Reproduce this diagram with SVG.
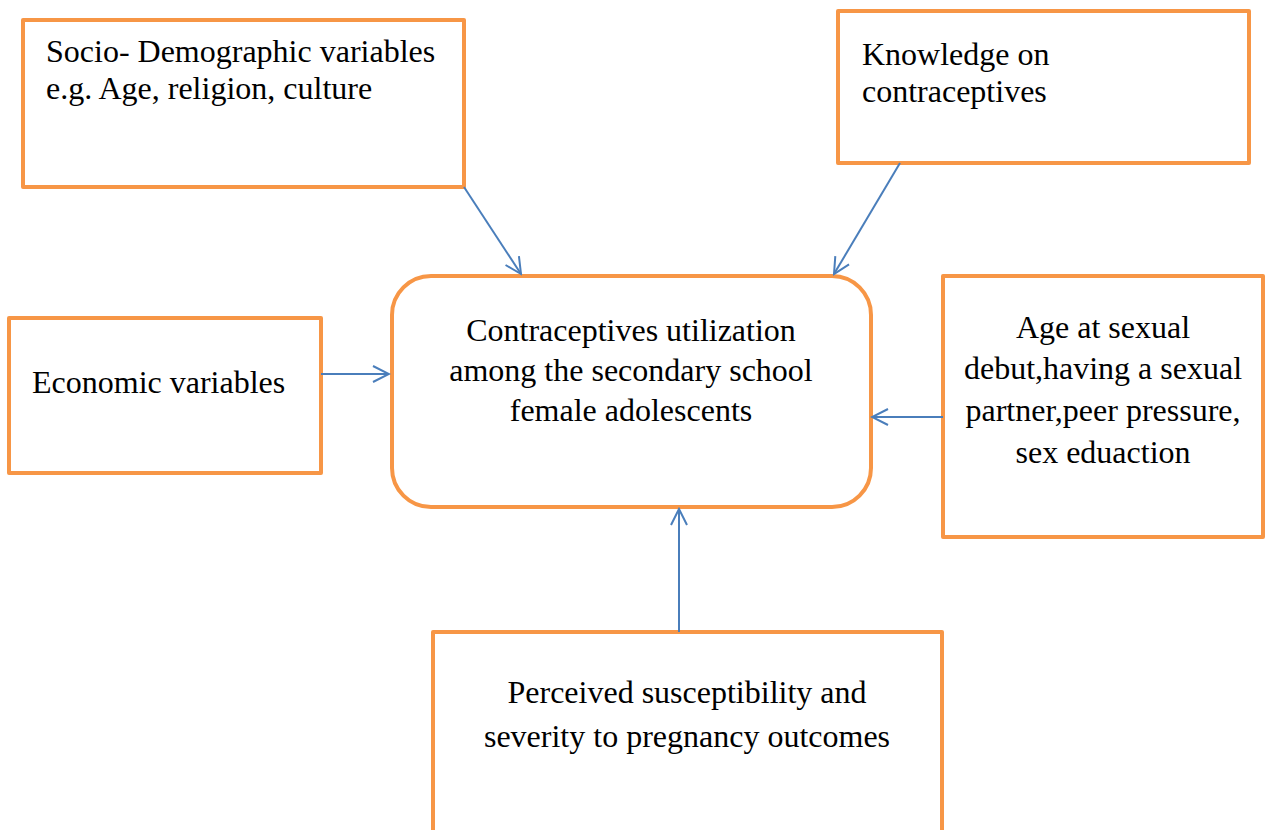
<svg xmlns="http://www.w3.org/2000/svg" width="1265" height="830" viewBox="0 0 1265 830">
<style>
.box{fill:#fff;stroke:#F79646;stroke-width:4;stroke-linejoin:round}
.t{font-family:"Liberation Serif","Times New Roman",serif;font-size:32px;fill:#000}
.c{text-anchor:middle}
.con{stroke:#4A7EBB;stroke-width:2;fill:none}
</style>
<defs>
<marker id="arr" markerUnits="userSpaceOnUse" markerWidth="20" markerHeight="20" viewBox="0 0 20 20" refX="18" refY="10" orient="auto">
<path d="M2,2 L18,10 L2,18" fill="none" stroke="#4A7EBB" stroke-width="2"/>
</marker>
</defs>
<rect width="1265" height="830" fill="#fff"/>
<g id="n-socio">
<rect class="box" x="23" y="20" width="441" height="167"/>
<text class="t" x="46" y="62">Socio- Demographic variables</text>
<text class="t" x="46" y="99">e.g. Age, religion, culture</text>
</g>
<g id="n-knowledge">
<rect class="box" x="838" y="11" width="411" height="152"/>
<text class="t" x="862" y="65">Knowledge on</text>
<text class="t" x="862" y="102">contraceptives</text>
</g>
<g id="n-economic">
<rect class="box" x="9" y="318" width="312" height="155"/>
<text class="t" x="32" y="393">Economic variables</text>
</g>
<g id="n-center">
<rect class="box" x="392" y="276" width="479" height="231" rx="39" ry="39"/>
<text class="t c" x="631" y="341">Contraceptives utilization</text>
<text class="t c" x="631" y="381">among the secondary school</text>
<text class="t c" x="631" y="421">female adolescents</text>
</g>
<g id="n-age">
<rect class="box" x="943" y="276" width="320" height="261"/>
<text class="t c" x="1103" y="338">Age at sexual</text>
<text class="t c" x="1103" y="379">debut,having a sexual</text>
<text class="t c" x="1103" y="421">partner,peer pressure,</text>
<text class="t c" x="1103" y="463">sex eduaction</text>
</g>
<g id="n-perceived">
<rect class="box" x="433" y="632" width="509" height="210"/>
<text class="t c" x="687" y="703">Perceived susceptibility and</text>
<text class="t c" x="687" y="747">severity to pregnancy outcomes</text>
</g>
<g id="connectors">
<line class="con" x1="464" y1="187" x2="521" y2="274" marker-end="url(#arr)"/>
<line class="con" x1="900" y1="163" x2="834" y2="274" marker-end="url(#arr)"/>
<line class="con" x1="321" y1="374" x2="389" y2="374" marker-end="url(#arr)"/>
<line class="con" x1="943" y1="417" x2="872" y2="417" marker-end="url(#arr)"/>
<line class="con" x1="679" y1="632" x2="679" y2="509" marker-end="url(#arr)"/>
</g>
</svg>
